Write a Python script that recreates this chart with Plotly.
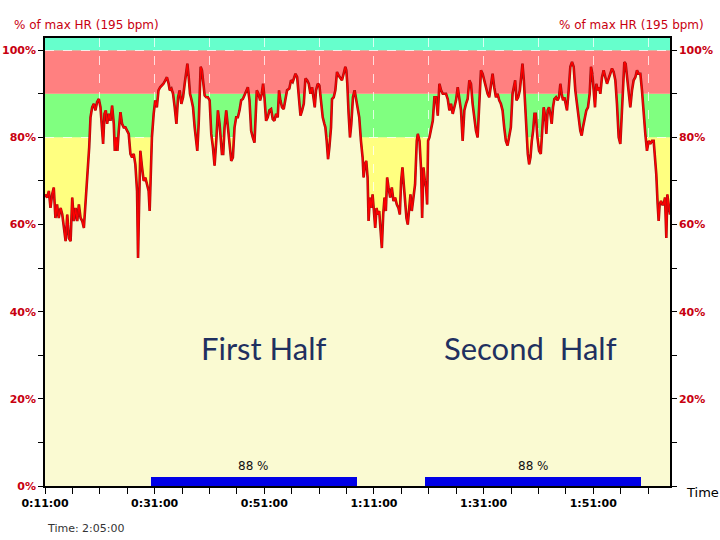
import plotly.graph_objects as go

# ---------------- data ----------------
time_min = [
    11.0, 11.4, 11.7, 12.0, 12.3, 12.6, 12.9, 13.2, 13.5, 13.85, 14.15, 14.45, 14.76, 15.06, 15.36, 15.67,
    15.97, 16.27, 16.58, 16.88, 17.18, 17.49, 17.79, 18.09, 18.39, 18.58, 18.82, 19.06, 19.3, 19.6, 19.9, 20.2,
    20.5, 20.82, 21.12, 21.42, 21.6, 21.85, 22.09, 22.33, 22.64, 22.94, 23.24, 23.55, 23.73, 23.97, 24.21, 24.45,
    24.76, 25.06, 25.36, 25.67, 25.97, 26.27, 26.58, 26.88, 27.18, 27.48, 27.79, 27.97, 28.15, 28.39, 28.7, 29.0,
    29.3, 29.6, 29.9, 30.09, 30.33, 30.5, 30.82, 31.1, 31.4, 31.7, 32.0, 32.3, 32.6, 32.94, 33.24, 33.55,
    #
    33.75, 34.06, 34.36, 34.66, 34.97, 35.27, 35.57, 35.87, 36.18, 36.48, 36.78, 36.97, 37.21, 37.45, 37.69, 38.0,
    38.3, 38.6, 38.78, 39.03, 39.21, 39.39, 39.63, 39.87, 40.12, 40.42, 40.72, 41.03, 41.33, 41.63, 41.93, 42.24,
    42.54, 42.84, 43.03, 43.27, 43.51, 43.75, 44.06, 44.36, 44.66, 44.97, 45.27, 45.57, 45.87, 46.18, 46.48, 46.78,
    47.09, 47.39, 47.69, 48.0, 48.3, 48.6, 48.9, 49.21, 49.39, 49.63, 49.93, 50.24, 50.54, 50.78, 51.03, 51.33,
    51.63, 51.93, 52.24, 52.54, 52.84, 53.15, 53.45, 53.69, 53.93, 54.24, 54.54, 54.84, 55.15, 55.57, 55.87, 56.18,
    #
    56.69, 56.99, 57.29, 57.6, 57.9, 58.2, 58.5, 58.81, 59.11, 59.41, 59.72, 60.02, 60.2, 60.44, 60.75, 61.05,
    61.35, 61.66, 61.96, 62.14, 62.38, 62.63, 62.87, 63.17, 63.35, 63.66, 63.96, 64.26, 64.56, 64.87, 65.17, 65.47,
    65.78, 65.96, 66.14, 66.38, 66.63, 66.87, 67.17, 67.47, 67.72, 68.02, 68.32, 68.63, 68.93, 69.11, 69.35, 69.6,
    69.84, 70.02, 70.26, 70.5, 70.75, 70.99, 71.23, 71.47, 71.72, 71.96, 72.2, 72.44, 72.69, 72.93, 73.17, 73.41,
    73.66, 73.96, 74.26, 74.56, 74.87, 75.17, 75.47, 75.72, 75.96, 76.2, 76.44, 76.69, 76.93, 77.17, 77.41, 77.66,
    77.9, 78.2, 78.5, 78.81,
    #
    79.0, 79.31, 79.61, 79.79, 80.03, 80.28, 80.52, 80.7, 80.88, 81.12, 81.43, 81.73, 82.03, 82.34, 82.64, 82.94,
    83.25, 83.55, 83.85, 84.15, 84.46, 84.76, 85.06, 85.37, 85.67, 85.97, 86.28, 86.58, 86.88, 87.18, 87.49, 87.79,
    88.09, 88.4, 88.7, 89.0, 89.31, 89.61, 89.91, 90.22, 90.52, 90.82, 91.12, 91.43, 91.73, 92.03, 92.34, 92.64,
    92.94, 93.25, 93.55, 93.85, 94.15, 94.46, 94.76, 95.06, 95.37, 95.67, 95.97, 96.28, 96.58, 96.76, 97.0, 97.31,
    97.61, 97.85, 98.09, 98.34, 98.58, 98.82, 99.06, 99.31, 99.55, 99.79, 100.03, 100.28, 100.52, 100.82, 101.12, 101.43,
    #
    101.65, 101.96, 102.26, 102.44, 102.69, 102.93, 103.17, 103.42, 103.66, 103.9, 104.21, 104.51, 104.75, 105.0, 105.24, 105.48,
    105.73, 105.97, 106.21, 106.52, 106.82, 107.13, 107.43, 107.73, 108.04, 108.34, 108.64, 108.89, 109.13, 109.44, 109.74, 110.04,
    110.35, 110.59, 110.83, 111.08, 111.32, 111.56, 111.81, 112.05, 112.29, 112.6, 112.9, 113.2, 113.51, 113.81, 114.12, 114.42,
    114.72, 115.03, 115.33, 115.64, 115.94, 116.18, 116.43, 116.67, 116.91, 117.16, 117.46, 117.76, 118.07, 118.37, 118.68, 118.98,
    119.28, 119.59, 119.89, 120.2, 120.5, 120.8, 121.11, 121.41, 121.72, 122.02, 122.32, 122.5, 122.75, 122.93, 123.11, 123.36,
    123.6, 123.84, 124.09, 124.33, 124.51, 125.0,
]

hr_pct = [
    66.9, 66.2, 67.7, 63.8, 66.9, 68.5, 61.5, 64.6, 61.5, 63.8, 62.3, 59.2, 56.2, 62.3, 56.9, 56.2,
    66.2, 60.8, 63.8, 60.8, 64.6, 61.5, 60.8, 59.2, 64.6, 66.9, 71.5, 77.7, 84.6, 86.9, 87.7, 86.2,
    88.1, 88.8, 86.9, 82.3, 78.5, 85.4, 86.2, 83.1, 85.4, 83.8, 87.3, 83.1, 76.9, 80.0, 76.9, 81.5,
    85.8, 83.1, 82.3, 82.3, 81.5, 80.8, 76.2, 75.4, 76.2, 73.8, 67.7, 52.3, 63.8, 76.9, 73.1, 70.0,
    70.8, 69.2, 67.7, 63.1, 73.1, 80.0, 85.4, 88.5, 86.9, 90.8, 91.5, 91.9, 92.3, 93.1, 93.8, 92.3,
    #
    90.8, 91.2, 90.0, 86.9, 83.1, 89.2, 90.8, 87.7, 89.2, 92.3, 95.4, 96.9, 93.8, 90.0, 88.8, 86.9,
    82.3, 77.7, 76.9, 83.1, 90.8, 96.2, 95.4, 92.3, 89.6, 89.2, 89.2, 88.5, 80.8, 77.7, 73.5, 79.2,
    86.2, 83.1, 80.0, 76.2, 76.2, 82.3, 86.2, 82.3, 79.2, 74.6, 75.4, 82.3, 84.6, 84.6, 86.2, 88.5,
    88.8, 89.6, 90.4, 91.5, 88.5, 81.5, 80.0, 78.8, 83.8, 90.8, 90.0, 88.5, 90.0, 92.3, 89.2, 83.8,
    84.6, 86.2, 86.5, 84.2, 83.8, 85.4, 84.6, 90.8, 88.5, 86.9, 86.5, 89.2, 90.8, 91.2, 93.1, 92.7,
    #
    94.6, 93.8, 88.5, 85.0, 86.2, 87.7, 93.5, 93.1, 92.3, 90.0, 91.5, 87.7, 86.9, 90.8, 92.3, 91.9,
    88.5, 84.6, 83.1, 82.3, 79.2, 75.0, 77.7, 82.3, 88.8, 89.2, 90.8, 95.0, 94.2, 93.5, 93.1, 94.6,
    96.2, 95.4, 92.3, 85.4, 80.0, 83.1, 89.2, 90.8, 88.8, 86.9, 84.6, 79.2, 75.4, 70.8, 73.8, 74.6,
    70.8, 60.8, 66.2, 63.8, 66.9, 63.1, 59.2, 63.8, 62.3, 63.1, 57.7, 54.6, 62.3, 66.2, 63.1, 70.8,
    68.5, 66.2, 68.5, 65.4, 66.2, 64.6, 63.8, 62.3, 70.0, 73.1, 69.2, 65.4, 61.5, 60.0, 64.6, 66.9,
    63.1, 66.2, 69.2, 79.2,
    #
    80.8, 79.2, 72.3, 61.5, 73.1, 70.0, 68.5, 64.6, 79.2, 80.0, 82.3, 83.8, 89.2, 89.2, 85.0, 92.3,
    90.8, 90.0, 90.0, 90.0, 88.8, 86.2, 87.7, 85.4, 86.9, 88.5, 91.5, 89.2, 86.2, 79.2, 86.2, 87.7,
    88.8, 93.1, 92.3, 87.7, 83.8, 81.5, 80.0, 86.9, 95.4, 94.6, 93.1, 91.5, 90.0, 89.2, 91.5, 94.6,
    91.5, 89.2, 90.0, 88.5, 87.7, 86.2, 82.3, 79.2, 78.1, 80.8, 82.3, 90.0, 92.3, 93.1, 88.5, 89.2,
    90.8, 93.8, 96.9, 93.1, 87.7, 80.8, 76.2, 73.8, 75.4, 79.2, 81.5, 85.4, 85.4, 80.0, 76.9, 76.2,
    #
    81.5, 86.9, 84.6, 80.8, 86.2, 86.9, 85.4, 83.1, 86.9, 88.8, 89.2, 88.5, 89.2, 92.3, 90.0, 88.5,
    89.2, 87.7, 86.2, 90.8, 96.2, 97.3, 96.2, 90.8, 86.9, 84.6, 81.5, 80.4, 82.3, 84.6, 86.2, 86.9,
    90.0, 96.2, 94.6, 90.8, 86.9, 92.3, 90.8, 91.5, 90.0, 93.8, 95.4, 93.8, 92.3, 93.5, 94.6, 95.8,
    95.0, 93.1, 87.7, 80.0, 78.5, 84.6, 93.1, 97.3, 96.9, 93.8, 89.2, 86.9, 90.8, 93.1, 93.8, 95.4,
    94.6, 94.6, 90.8, 84.6, 80.8, 76.9, 79.2, 78.5, 79.2, 79.2, 75.4, 71.5, 64.6, 60.8, 64.6, 65.4,
    64.6, 64.6, 66.2, 56.9, 66.9, 62.3,
]

if len(time_min) != len(hr_pct):
    raise ValueError(f"length mismatch {len(time_min)} vs {len(hr_pct)}")

# heart-rate zones (% of max HR)
zone_low = [0, 60, 80, 90, 100]
zone_high = [60, 80, 90, 100, 102.8]
zone_colors = ["#FAFAD2", "#FFFF80", "#80FF80", "#FF8080", "#66FFCC"]

# halves
half_start = [30.25, 80.4]
half_end = [67.85, 119.8]
half_pct_label = ["88 %", "88 %"]
half_names = ["First Half", "Second  Half"]

x_tick_vals = [11, 21, 31, 41, 51, 61, 71, 81, 91, 101, 111, 121]
x_tick_text = ["0:11:00", "", "0:31:00", "", "0:51:00", "", "1:11:00", "", "1:31:00", "", "1:51:00", ""]
y_tick_vals = [0, 20, 40, 60, 80, 100]
y_left_text = ["0%", "20%", "40%", "60%", "80%", "100%"]
y_right_text = ["", "20%", "40%", "60%", "80%", "100%"]

X_RANGE = [11, 125]
Y_RANGE = [0, 102.8]

# ---------------- figure ----------------
fig = go.Figure()

CREAM = "#FAFAD2"
RED_TXT = "#C80010"

# zone bands
for lo, hi, col in zip(zone_low, zone_high, zone_colors):
    fig.add_shape(type="rect", xref="paper", x0=0, x1=1, yref="y", y0=lo, y1=hi,
                  fillcolor=col, line_width=0, layer="below")

# area under HR curve
fig.add_trace(go.Scatter(x=time_min, y=hr_pct, mode="lines", fill="tozeroy",
                         fillcolor=CREAM, line=dict(width=0, color=CREAM),
                         hoverinfo="skip", showlegend=False))
# HR line (dark edge + red core)
fig.add_trace(go.Scatter(x=time_min, y=hr_pct, mode="lines",
                         line=dict(color="#A01010", width=2.6),
                         hoverinfo="skip", showlegend=False))
fig.add_trace(go.Scatter(x=time_min, y=hr_pct, mode="lines",
                         line=dict(color="#FF0000", width=1.3),
                         showlegend=False))

# half bars (on the overlaying axis so they are drawn above the filled area)
BAR_H = 2.1
mids = [(s + e) / 2 for s, e in zip(half_start, half_end)]
widths = [e - s for s, e in zip(half_start, half_end)]
fig.add_trace(go.Bar(x=mids, y=[BAR_H] * len(mids), width=widths, base=0, yaxis="y2",
                     marker=dict(color="#0000E6", line_width=0), showlegend=False))
for m, lab in zip(mids, half_pct_label):
    fig.add_annotation(x=m, y=BAR_H, xref="x", yref="y", text=lab, showarrow=False,
                       yanchor="bottom", yshift=2,
                       font=dict(family="DejaVu Sans", size=12, color="#111111"))

# half names
for xp, name in zip([0.3496, 0.7768], half_names):
    fig.add_annotation(x=xp, y=0.308, xref="paper", yref="paper", text=name, showarrow=False,
                       xanchor="center", yanchor="middle",
                       font=dict(family="Lato", size=31, color="#1F3060"))

# axis titles
fig.add_annotation(x=-0.053, y=1.029, xref="paper", yref="paper", text="% of max HR (195 bpm)",
                   showarrow=False, xanchor="left", yanchor="middle",
                   font=dict(family="DejaVu Sans", size=12, color=RED_TXT))
fig.add_annotation(x=1.0576, y=1.029, xref="paper", yref="paper", text="% of max HR (195 bpm)",
                   showarrow=False, xanchor="right", yanchor="middle",
                   font=dict(family="DejaVu Sans", size=12, color=RED_TXT))
fig.add_annotation(x=1.0224, y=-0.0134, xref="paper", yref="paper", text="Time",
                   showarrow=False, xanchor="left", yanchor="middle",
                   font=dict(family="DejaVu Sans", size=13, color="#000000"))
fig.add_annotation(x=0.0, y=-0.094, xref="paper", yref="paper", text="Time: 2:05:00",
                   showarrow=False, xanchor="left", yanchor="middle",
                   font=dict(family="DejaVu Sans", size=11, color="#333333"))

fig.update_layout(
    width=720, height=540,
    margin=dict(l=45, r=50, t=38, b=54, autoexpand=False),
    paper_bgcolor="white", plot_bgcolor=CREAM,
    barmode="overlay", bargap=0,
    showlegend=False,
    xaxis=dict(range=X_RANGE, tickmode="array", tickvals=x_tick_vals, ticktext=x_tick_text,
               ticks="outside", ticklen=6, tickcolor="black", tickwidth=1, automargin=False,
               showgrid=True, gridcolor="rgba(255,255,255,0.75)", griddash="dash", gridwidth=1,
               showline=True, linecolor="black", linewidth=1.5, mirror=True,
               zeroline=False,
               tickfont=dict(family="DejaVu Sans", size=11, color="black", weight="bold"),
               minor=dict(tick0=11, dtick=5, ticks="outside", ticklen=6, tickcolor="black",
                          showgrid=False)),
    yaxis=dict(range=Y_RANGE, tickmode="array", tickvals=y_tick_vals, ticktext=y_left_text,
               ticks="outside", ticklen=5, tickcolor="black", automargin=False,
               showgrid=True, gridcolor="rgba(255,255,255,0.75)", griddash="dash", gridwidth=1,
               showline=True, linecolor="black", linewidth=1.5, zeroline=False,
               tickfont=dict(family="DejaVu Sans", size=11, color=RED_TXT, weight="bold"),
               minor=dict(tick0=0, dtick=10, ticks="outside", ticklen=5, tickcolor="black",
                          showgrid=False)),
    yaxis2=dict(range=Y_RANGE, overlaying="y", side="right", tickmode="array",
                tickvals=y_tick_vals, ticktext=y_right_text, automargin=False,
                ticks="outside", ticklen=5, tickcolor="black",
                showgrid=False, showline=True, linecolor="black", linewidth=1.5, zeroline=False,
                tickfont=dict(family="DejaVu Sans", size=11, color=RED_TXT, weight="bold"),
                minor=dict(tick0=0, dtick=10, ticks="outside", ticklen=5, tickcolor="black",
                           showgrid=False)),
)

fig.write_html("out.html")
